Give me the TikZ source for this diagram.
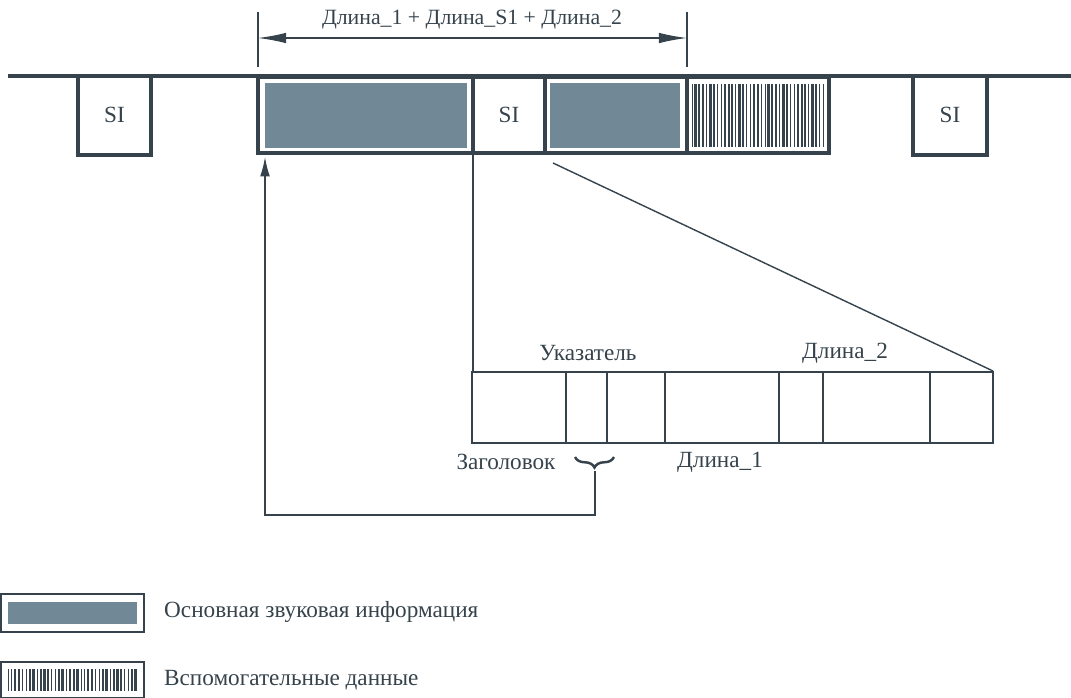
\documentclass[tikz,border=0pt]{standalone}
\usepackage{fontspec}
\setmainfont{Liberation Serif}
\usepackage{tikz}
\usetikzlibrary{arrows, arrows.meta, positioning, calc, decorations.pathreplacing}
\definecolor{slate}{HTML}{36434C}
\definecolor{audio}{HTML}{718896}
\tikzstyle{frame} = [draw=slate, line width=2.3pt]
\tikzstyle{thin} = [draw=slate, line width=0.8pt]
\tikzstyle{dimline} = [line width=0.8pt, draw=slate, arrows={-Latex[length=16pt, width=6pt]}]
\tikzstyle{pointer} = [line width=0.8pt, draw=slate, arrows={-Latex[length=11pt, width=5.5pt]}]

\begin{document}
\begin{tikzpicture}[x=0.02cm, y=-0.02cm, font=\fontsize{13.2}{15}\selectfont, text=slate]

\useasboundingbox (0, 0) rectangle (1071, 697);

% Stream
\draw [frame] (8, 76) -- (1071, 76);

\draw [frame] (78, 76) rectangle (151, 155);
\node (si1) at (114.5, 115) {SI};
\draw [frame] (913, 76) rectangle (987, 155);
\node (si3) at (950, 115) {SI};

% Frame with audio data
\fill [audio] (265, 83) rectangle (467, 148);
\fill [audio] (550, 83) rectangle (680, 148);
\draw [frame] (258, 77) rectangle (829, 153);
\draw [frame] (473, 77) -- (473, 153);
\draw [frame] (545, 77) -- (545, 153);
\draw [frame] (687, 77) -- (687, 153);
\node (si2) at (509, 115) {SI};

\foreach \i in {0,...,36} {
  \pgfmathsetmacro\w{0.45+0.35*mod(\i*7,4)}
  \draw [slate, line width=\w pt] ({692+3.65*\i}, 84) -- ++(0, 63);
}

% Length
\draw [thin] (258, 12) -- (258, 67);
\draw [thin] (687, 12) -- (687, 67);
\coordinate (mid) at (472, 38);
\draw [dimline] (mid) -- (258, 38);
\draw [dimline] (mid) -- (687, 38);
\node [font=\fontsize{12.4}{15}\selectfont] (len) at (472, 20) {Длина\_1 + Длина\_S1 + Длина\_2};

% Header fields
\draw [thin] (472, 372) rectangle (993, 443);
\foreach \x in {566, 607, 665, 779, 823, 930}
  \draw [thin] (\x, 372) -- (\x, 443);
\draw [thin] (473, 155) -- (473, 372);
\draw [thin] (553, 163) -- (993, 371);

\node (ptr) at (588, 353) {Указатель};
\node (len2) at (845, 353) {Длина\_2};
\node (head) at (506, 462) {Заголовок};
\node (len1) at (720, 462) {Длина\_1};

\draw [slate, line width=1.4pt, decorate, decoration={brace, amplitude=6pt}] (614, 457) -- (575, 457);
\coordinate (tip) at (595, 471);
\coordinate (start) at (265, 157);
\draw [pointer] (tip) -- (595, 515) -| (start);

% Legend
\draw [thin] (1, 594) rectangle (144, 632);
\fill [audio] (8, 602) rectangle (137, 624);
\node [right] (leg1) at (158, 612) {Основная звуковая информация};

\draw [thin] (1, 662) rectangle (144, 698);
\foreach \i in {0,...,35} {
  \pgfmathsetmacro\w{0.45+0.35*mod(\i*5,4)}
  \draw [slate, line width=\w pt] ({8+3.65*\i}, 669) -- ++(0, 22);
}
\node [right] (leg2) at (158, 680) {Вспомогательные данные};

\end{tikzpicture}
\end{document}
